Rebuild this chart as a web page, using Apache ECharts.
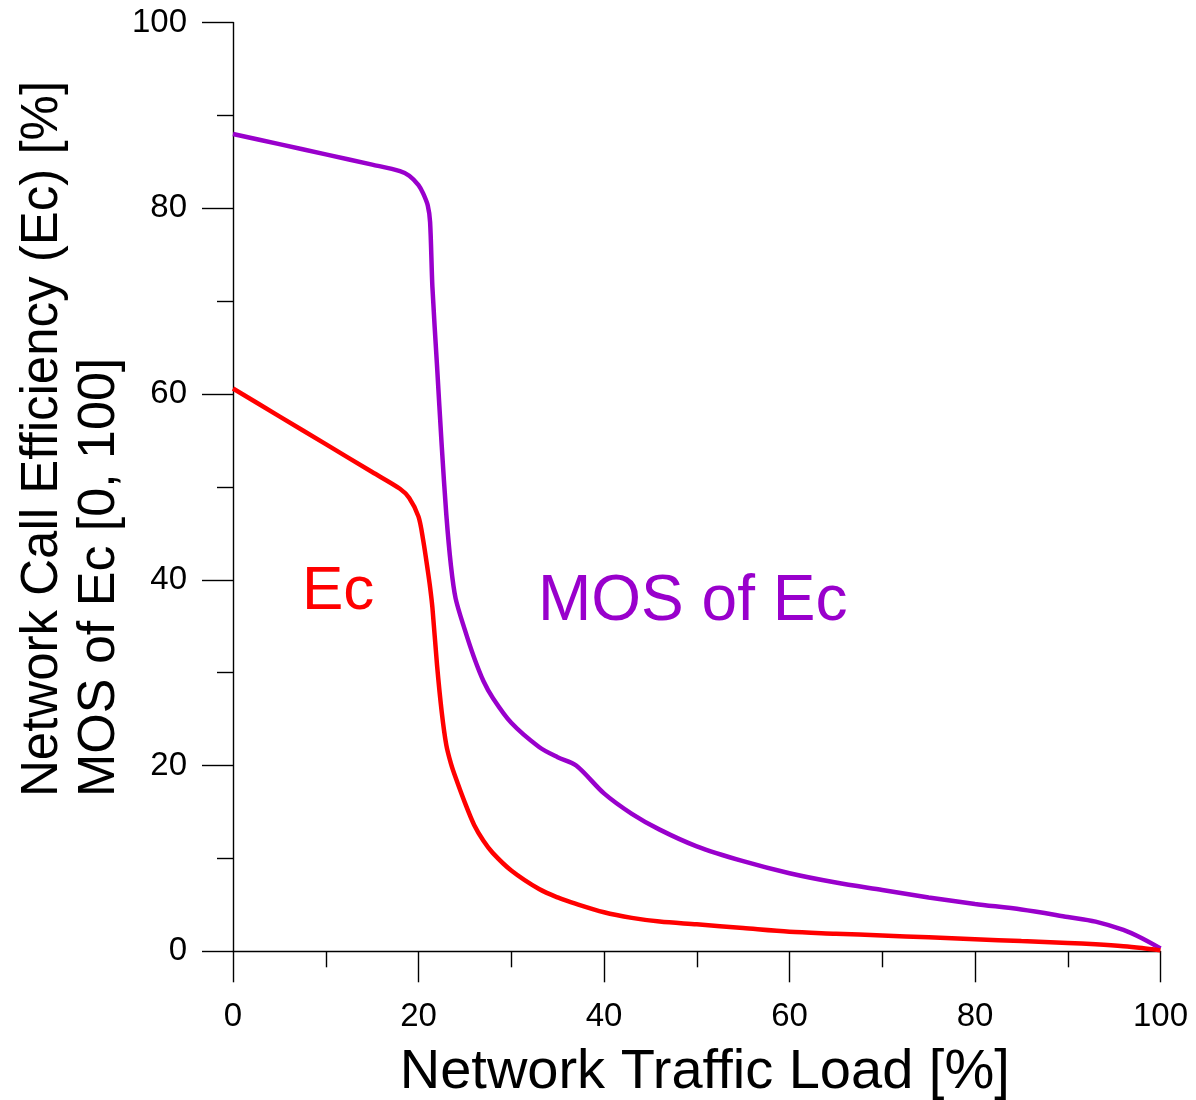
<!DOCTYPE html>
<html>
<head>
<meta charset="utf-8">
<script src="https://cdn.jsdelivr.net/npm/echarts@6/dist/echarts.min.js"></script>
<style>
html,body{margin:0;padding:0;background:#fff;}
#chart{width:1196px;height:1100px;}
</style>
</head>
<body>
<div id="chart"></div>
<script>
// traffic load [%]
var loadX = [0, 5, 10, 15, 18, 19, 20, 20.5, 21, 21.25, 21.5, 22, 22.5, 23, 23.5, 24, 25, 26, 27, 28, 30, 33, 35, 37, 40, 43, 46, 50, 55, 60, 65, 70, 75, 80, 85, 90, 93, 96, 98, 100];
// call efficiency Ec [%]
var ecVals = [60.6, 57.6, 54.6, 51.6, 49.8, 48.8, 46.8, 44.3, 41.0, 39.2, 37.0, 30.8, 25.8, 22.2, 20.2, 18.7, 16.0, 13.6, 11.9, 10.6, 8.7, 6.7, 5.8, 5.1, 4.2, 3.6, 3.2, 2.9, 2.5, 2.1, 1.9, 1.7, 1.5, 1.3, 1.1, 0.9, 0.75, 0.55, 0.35, 0.1];
// MOS of Ec [0,100]
var mosVals = [88.0, 86.9, 85.8, 84.7, 84.0, 83.5, 82.5, 81.6, 80.3, 78.5, 71.5, 63.0, 54.5, 47.0, 41.5, 38.0, 34.6, 31.6, 29.1, 27.3, 24.6, 22.0, 20.9, 20.0, 17.0, 14.8, 13.1, 11.3, 9.7, 8.4, 7.4, 6.6, 5.8, 5.1, 4.5, 3.7, 3.2, 2.3, 1.4, 0.3];

var xTitle = 'Network Traffic Load [%]';
var yTitle1 = 'Network Call Efficiency (Ec) [%]';
var yTitle2 = 'MOS of Ec [0, 100]';

var font = "'Liberation Sans', Arial, sans-serif";

function pairs(xs, ys){
    var out = [];
    for(var i=0;i<xs.length;i++){ out.push([xs[i], ys[i]]); }
    return out;
}

var axisCommon = {
    type: 'value',
    min: 0,
    max: 100,
    interval: 20,
    axisLine: {show: true, onZero: false, lineStyle: {color: '#000', width: 1.4}},
    axisTick: {show: true, inside: false, length: 31, lineStyle: {color: '#000', width: 1.4}},
    minorTick: {show: true, splitNumber: 2, length: 16, lineStyle: {color: '#000', width: 1.4}},
    splitLine: {show: false},
    minorSplitLine: {show: false}
};

var myChart = echarts.init(document.getElementById('chart'));
var option = {
    animation: false,
    backgroundColor: '#fff',
    grid: {left: 233, right: 35.5, top: 22.5, bottom: 148.7, outerBoundsMode: 'none', containLabel: false},
    xAxis: Object.assign({}, axisCommon, {
        axisLabel: {color: '#000', fontSize: 33, fontFamily: font, margin: 49},
        name: xTitle,
        nameLocation: 'middle',
        nameGap: 93,
        nameTextStyle: {color: '#000', fontSize: 56, fontFamily: font, padding: [0, 0, 0, 16]}
    }),
    yAxis: Object.assign({}, axisCommon, {
        axisLabel: {color: '#000', fontSize: 33, fontFamily: font, margin: 46}
    }),
    graphic: [
        {type: 'text', x: 43, y: 797, rotation: Math.PI/2,
         style: {text: yTitle1, fill: '#000', fontSize: 51, fontFamily: font, align: 'left', verticalAlign: 'middle'}},
        {type: 'text', x: 100, y: 797, rotation: Math.PI/2,
         style: {text: yTitle2, fill: '#000', fontSize: 52, fontFamily: font, align: 'left', verticalAlign: 'middle'}},
        {type: 'text', x: 302, y: 592,
         style: {text: 'Ec', fill: '#ff0000', fontSize: 62, fontFamily: font, align: 'left', verticalAlign: 'middle'}},
        {type: 'text', x: 538, y: 602,
         style: {text: 'MOS of Ec', fill: '#9900cc', fontSize: 64, fontFamily: font, align: 'left', verticalAlign: 'middle'}}
    ],
    series: [
        {
            name: 'MOS of Ec',
            type: 'line',
            data: pairs(loadX, mosVals),
            showSymbol: false,
            smooth: 0.3,
            lineStyle: {color: '#9900cc', width: 4.5},
            itemStyle: {color: '#9900cc'}
        },
        {
            name: 'Ec',
            type: 'line',
            data: pairs(loadX, ecVals),
            showSymbol: false,
            smooth: 0.3,
            lineStyle: {color: '#ff0000', width: 4.5},
            itemStyle: {color: '#ff0000'}
        }
    ]
};
myChart.setOption(option);
</script>
</body>
</html>
